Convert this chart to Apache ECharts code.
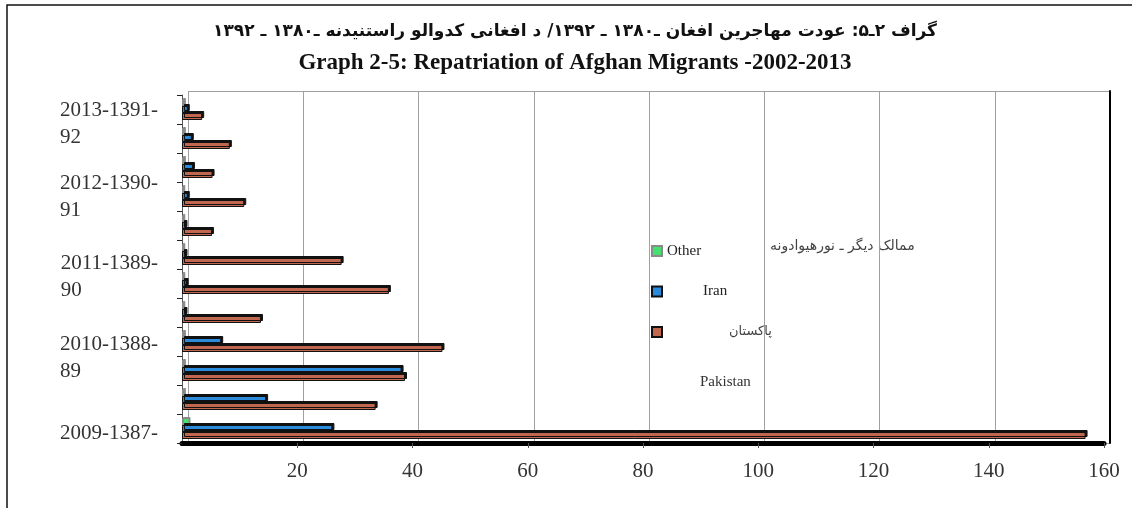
<!DOCTYPE html>
<html>
<head>
<meta charset="utf-8">
<script src="https://cdn.jsdelivr.net/npm/echarts@6/dist/echarts.min.js"></script>
<style>
  html, body { margin: 0; padding: 0; background: #fff; }
  #chart { width: 1132px; height: 508px; }
</style>
</head>
<body>
<div id="chart"></div>
<script>
// years of the bars, bottom to top (units: 10,000 people)
const years = ['2002', '2003', '2004', '2005', '2006', '2007', '2008', '2009', '2010', '2011', '2012', '2013'];
const pakistan = [156.8, 33.6, 38.7, 45.2, 13.7, 35.9, 27.7, 5.2, 10.8, 5.3, 8.3, 3.5];
const iran = [26.1, 14.6, 38.1, 6.8, 0.6, 0.8, 0.6, 0.6, 1.0, 1.9, 1.7, 1.0];
const other = [1.3, 0.5, 0.5, 0.5, 0.4, 0.4, 0.4, 0.4, 0.4, 0.5, 0.5, 0.5];
// y tick labels as they appear in the picture (empty = no label)
const yTickLabels = ['2009-1387-', '', '2010-1388-\n89', '', '', '2011-1389-\n90', '', '', '2012-1390-\n91', '', '', '2013-1391-\n92'];
// extra space above / below some labels, to move them off the band centre
const padAbove = [10, 0, 0, 0, 0, 0, 0, 0, 0, 0, 0, 28];
const padBelow = [0, 0, 25, 0, 0, 13, 0, 0, 0, 0, 0, 0];
const xTicks = { min: 0, max: 160, interval: 20 };

const titleFa = 'گراف ۲ـ۵: عودت مهاجرین افغان ـ۱۳۸۰ ـ ۱۳۹۲/ د افغانی کدوالو راستنیدنه ـ۱۳۸۰ ـ ۱۳۹۲';
const titleEn = 'Graph 2-5: Repatriation of Afghan Migrants -2002-2013';

const chart = echarts.init(document.getElementById('chart'));

const barStyle = (color, edge, off) => ({
  color: color,
  borderColor: edge,
  borderWidth: 1,
  shadowColor: edge,
  shadowBlur: 0,
  shadowOffsetX: off,
  shadowOffsetY: -off
});

const labelRich = { t: { align: 'left', fontSize: 21, lineHeight: 27, fontFamily: 'Liberation Serif', color: '#333' } };
padAbove.concat(padBelow).forEach(h => { if (h) labelRich['s' + h] = { height: h, lineHeight: h, fontSize: 1 }; });

const option = {
  animation: false,
  backgroundColor: '#fff',
  graphic: [
    { type: 'rect', shape: { x: 7, y: 5, width: 1140, height: 520 }, style: { fill: 'none', stroke: '#111', lineWidth: 1.5 }, silent: true },
    { type: 'text', x: 575, y: 32, style: { text: titleFa, fontSize: 17, fontWeight: 'bold', fontFamily: 'DejaVu Sans', fill: '#111', align: 'center', verticalAlign: 'middle' } },
    { type: 'text', x: 575, y: 63, style: { text: titleEn, fontSize: 23, fontWeight: 'bold', fontFamily: 'Liberation Serif', fill: '#111', align: 'center', verticalAlign: 'middle' } },
    { type: 'text', x: 770, y: 246, style: { text: 'ممالک دیگر ـ نورهیوادونه', fontSize: 14, fontFamily: 'DejaVu Sans', fill: '#444', align: 'left', verticalAlign: 'middle' } },
    { type: 'text', x: 700, y: 382, style: { text: 'Pakistan', fontSize: 15, fontFamily: 'Liberation Serif', fill: '#333', align: 'left', verticalAlign: 'middle' } }
  ],
  legend: {
    orient: 'vertical',
    left: 646,
    top: 238,
    icon: 'rect',
    itemWidth: 10,
    itemHeight: 10,
    itemGap: 24.5,
    data: ['Other', 'Iran', 'Pakistan'],
    formatter: (name) => {
      if (name === 'Iran') return '{i|Iran}';
      if (name === 'Pakistan') return '{p|پاکستان}';
      return name;
    },
    textStyle: {
      fontSize: 15, lineHeight: 16, fontFamily: 'Liberation Serif', color: '#222',
      rich: {
        i: { fontSize: 15, fontFamily: 'Liberation Serif', color: '#222', padding: [0, 0, 0, 36] },
        p: { fontSize: 13, fontFamily: 'DejaVu Sans', color: '#444', padding: [0, 0, 0, 62] }
      }
    }
  },
  grid: [
    { left: 182, right: 28, top: 95, bottom: 65 },
    { left: 188, right: 22, top: 91, bottom: 65 }
  ],
  xAxis: [
    {
      gridIndex: 0, type: 'value', min: xTicks.min, max: xTicks.max, interval: xTicks.interval,
      axisLine: { show: true, onZero: false, lineStyle: { color: '#000', width: 5 } },
      axisTick: { show: true, length: 5, lineStyle: { color: '#555' } },
      axisLabel: { showMinLabel: false, margin: 18, fontSize: 21, fontFamily: 'Liberation Serif', color: '#333' },
      splitLine: { show: false }
    },
    {
      gridIndex: 1, type: 'value', min: xTicks.min, max: xTicks.max, interval: xTicks.interval,
      axisLine: { show: false }, axisTick: { show: false }, axisLabel: { show: false },
      splitLine: { show: true, lineStyle: { color: '#a0a0a0', width: 1 } }
    }
  ],
  yAxis: [
    {
      gridIndex: 0, type: 'category', data: years,
      axisLine: { show: true, lineStyle: { color: '#555', width: 1 } },
      axisTick: { show: true, interval: 0, length: 5, lineStyle: { color: '#222' } },
      axisLabel: {
        interval: 0, margin: 24,
        formatter: (v, i) => {
          const txt = yTickLabels[i];
          if (!txt) return '';
          let s = txt.split('\n').map(l => '{t|' + l + '}').join('\n');
          if (padAbove[i]) s = '{s' + padAbove[i] + '| }\n' + s;
          if (padBelow[i]) s = s + '\n{s' + padBelow[i] + '| }';
          return s;
        },
        rich: labelRich
      }
    },
    {
      gridIndex: 1, type: 'value', min: 0, max: 1, interval: 1, position: 'right',
      axisLine: { show: true, onZero: false, lineStyle: { color: '#000', width: 2 } },
      axisTick: { show: false }, axisLabel: { show: false },
      splitLine: { show: true, lineStyle: { color: '#a0a0a0', width: 1 } }
    }
  ],
  series: [
    { name: 'Other', type: 'bar', data: other, barWidth: 7, barGap: '0%', itemStyle: barStyle('#45e070', '#8a8a8a', 1) },
    { name: 'Iran', type: 'bar', data: iran, barWidth: 7, barGap: '0%', itemStyle: barStyle('#2a8bdc', '#111', 2) },
    { name: 'Pakistan', type: 'bar', data: pakistan, barWidth: 7, barGap: '0%', itemStyle: barStyle('#c1674f', '#111', 2) }
  ]
};

chart.setOption(option);
</script>
</body>
</html>
